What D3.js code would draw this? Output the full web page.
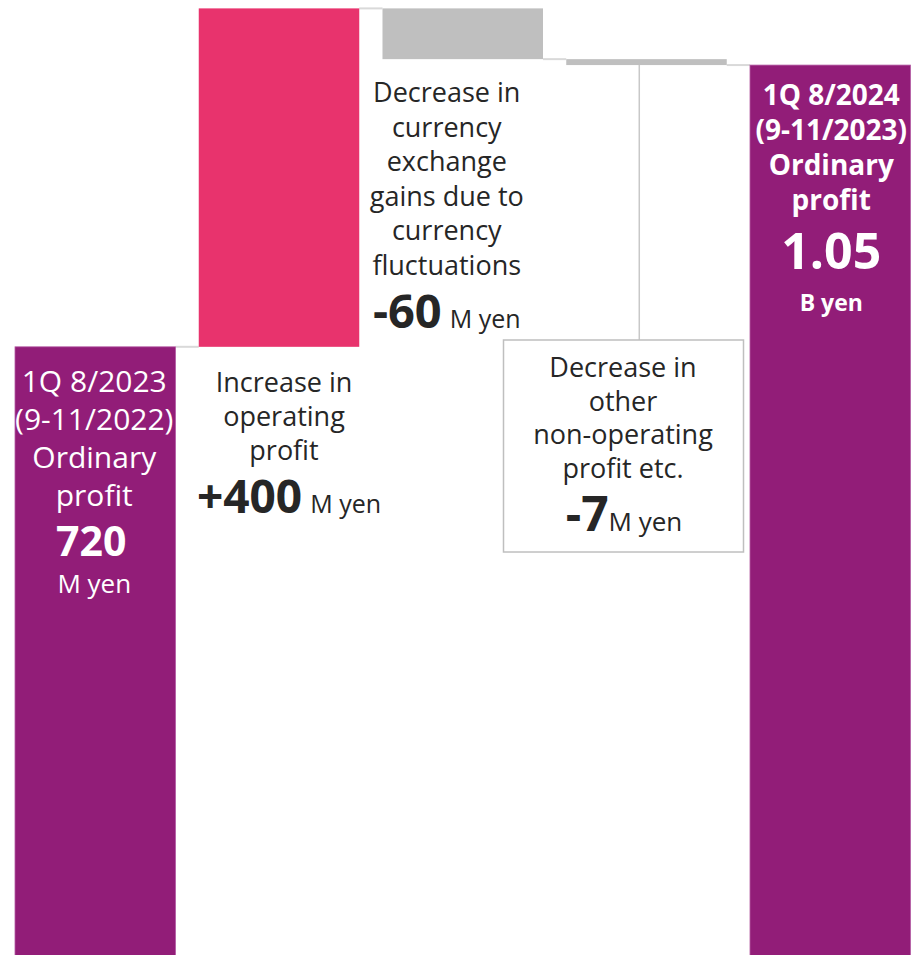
<!DOCTYPE html>
<html>
<head>
<meta charset="utf-8">
<script src="https://cdn.jsdelivr.net/npm/d3@7"></script>
<style>
  html, body { margin: 0; padding: 0; background: #fff; }
  svg { display: block; font-family: "Open Sans", "Noto Sans", sans-serif; }
</style>
</head>
<body>
<div id="chart"></div>
<script>
// ---- data ----
const categories = ["FY2023 1Q", "Operating profit", "FX gains", "Other non-operating", "FY2024 1Q"];
const values = [720, 400, -60, -7, 1053];
const kinds = ["total", "delta", "delta", "delta", "total"];

const baseLabel = ["1Q 8/2023", "(9-11/2022)", "Ordinary", "profit"];
const baseValue = "720";
const baseUnit = "M yen";
const opLabel = ["Increase in", "operating", "profit"];
const opValue = "+400";
const fxLabel = ["Decrease in", "currency", "exchange", "gains due to", "currency", "fluctuations"];
const fxValue = "-60";
const otherLabel = ["Decrease in", "other", "non-operating", "profit etc."];
const otherValue = "-7";
const endLabel = ["1Q 8/2024", "(9-11/2023)", "Ordinary", "profit"];
const endValue = "1.05";
const endUnit = "B yen";
const mUnit = "M yen";

// ---- layout ----
const W = 912, H = 955;
const svg = d3.select("#chart").append("svg").attr("width", W).attr("height", H);

const x = d3.scaleBand().domain(categories).range([15, 910.5]).paddingInner(0.1265).paddingOuter(0);
const y = d3.scaleLinear().domain([0, 1124]).range([956, 5]);

// cumulative
let run = 0;
const bars = categories.map((c, i) => {
  let y0, y1;
  if (kinds[i] === "total") { y0 = 0; y1 = values[i]; run = values[i]; }
  else { y0 = run; y1 = run + values[i]; run = y1; }
  return { cat: c, y0, y1, kind: kinds[i], v: values[i], i };
});

const colorFor = d => d.kind === "total" ? "#921D78" : (d.v > 0 ? "#E8336D" : "#BFBFBF");

// connectors
const conn = svg.append("g");
for (let i = 0; i < bars.length - 1; i++) {
  const lvl = bars[i].y1;
  conn.append("line")
    .attr("x1", x(bars[i].cat) + x.bandwidth())
    .attr("x2", x(bars[i + 1].cat))
    .attr("y1", y(lvl)).attr("y2", y(lvl))
    .attr("stroke", "#D9D9D9").attr("stroke-width", 2);
}

// bars
svg.append("g").selectAll("rect").data(bars).join("rect")
  .attr("x", d => x(d.cat))
  .attr("width", x.bandwidth())
  .attr("y", d => y(Math.max(d.y0, d.y1)))
  .attr("height", d => Math.abs(y(d.y0) - y(d.y1)))
  .attr("fill", colorFor)
  .attr("stroke", d => d.kind === "total" ? "#B45BA3" : "none")
  .attr("stroke-width", 0.8);

// helper for multi-line text
function lines(arr, cx, y0, dy, size, color, weight) {
  arr.forEach((t, k) => {
    svg.append("text").attr("x", cx).attr("y", y0 + k * dy)
      .attr("text-anchor", "middle").attr("font-size", size)
      .attr("font-weight", weight || 400).attr("fill", color).text(t);
  });
}
function valueLine(big, bigSize, unit, unitSize, cx, yb, color, gap) {
  const t = svg.append("text").attr("x", cx).attr("y", yb).attr("text-anchor", "middle").attr("fill", color);
  t.append("tspan").attr("font-size", bigSize).attr("font-weight", 700).text(big);
  t.append("tspan").attr("font-size", unitSize).attr("font-weight", 400).attr("dx", gap).text(unit);
}

const dark = "#262626";

// base bar text
const bx = x(categories[0]) + x.bandwidth() / 2 - 1;
lines(baseLabel, bx, 392, 38, 30, "#fff", 400);
svg.append("text").attr("x", bx - 3).attr("y", 556).attr("text-anchor", "middle")
  .attr("font-size", 41).attr("font-weight", 700).attr("fill", "#fff").text(baseValue);
svg.append("text").attr("x", bx).attr("y", 593).attr("text-anchor", "middle")
  .attr("font-size", 26).attr("fill", "#fff").text(baseUnit);

// operating profit text
const ox = x(categories[1]) + x.bandwidth() / 2 + 5;
lines(opLabel, ox, 392, 34, 27, dark, 400);
valueLine(opValue, 46, mUnit, 25, ox + 5, 513, dark, 8);

// fx text
const fx = x(categories[2]) + x.bandwidth() / 2 - 16;
lines(fxLabel, fx, 102, 34.5, 27, dark, 400);
valueLine(fxValue, 47, mUnit, 25, fx, 328, dark, 8);

// other: vertical line + box
const ob = bars[3];
const lx = x(ob.cat) + x.bandwidth() * 0.455;
svg.append("line").attr("x1", lx).attr("x2", lx)
  .attr("y1", y(ob.y1)).attr("y2", 340)
  .attr("stroke", "#C8C8C8").attr("stroke-width", 1.5);
svg.append("rect").attr("x", 503.5).attr("y", 340).attr("width", 240).attr("height", 212)
  .attr("fill", "#fff").attr("stroke", "#BFBFBF").attr("stroke-width", 1.5);
lines(otherLabel, 623, 377, 33.5, 27, dark, 400);
valueLine(otherValue, 48, mUnit, 26, 624, 531, dark, 0);

// end bar text
const ex = x(categories[4]) + x.bandwidth() / 2 + 1;
lines(endLabel, ex, 105, 35, 28, "#fff", 700);
svg.append("text").attr("x", ex).attr("y", 269).attr("text-anchor", "middle")
  .attr("font-size", 50).attr("font-weight", 700).attr("fill", "#fff").text(endValue);
svg.append("text").attr("x", ex).attr("y", 311).attr("text-anchor", "middle")
  .attr("font-size", 23).attr("font-weight", 700).attr("fill", "#fff").text(endUnit);
</script>
</body>
</html>
